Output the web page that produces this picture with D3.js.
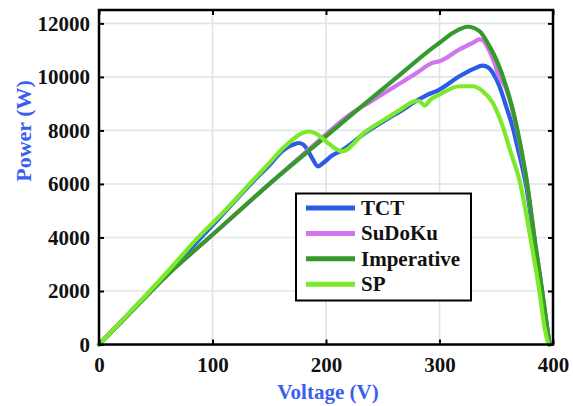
<!DOCTYPE html>
<html>
<head>
<meta charset="utf-8">
<script src="https://cdn.jsdelivr.net/npm/d3@7"></script>
<style>
  html, body { margin: 0; padding: 0; background: #fff; }
  svg { display: block; }
  .tick text { font-family: "Liberation Serif", "Times New Roman", serif; font-weight: bold; }
</style>
</head>
<body>
<svg id="chart" width="573" height="406"></svg>
<script>
// P-V characteristics of the array under four interconnection schemes
const seriesNames = ["TCT", "SuDoKu", "Imperative", "SP"];
const seriesColors = ["#2b5ce6", "#d274ee", "#35992c", "#7ce92a"];

const tctV = [0, 30, 60, 100, 136, 150, 162, 170, 176, 180, 184, 188, 193, 198, 205, 213, 235, 256, 265, 278, 288, 300, 317.6, 330, 338, 343, 347, 352.8, 358.7, 364.6, 368, 372, 376.3, 385, 390, 394, 397];
const tctP = [0, 1320, 2650, 4450, 6100, 6700, 7250, 7450, 7530, 7470, 7250, 6950, 6660, 6800, 7050, 7230, 7920, 8480, 8700, 9060, 9300, 9525, 10025, 10300, 10420, 10350, 10150, 9650, 8900, 8100, 7500, 6800, 5950, 3400, 2050, 850, 0];

const sudokuV = [0, 30, 60, 100, 152.5, 190, 220.8, 240, 260, 280, 294, 297, 300, 317.6, 329.3, 335.2, 338, 342.6, 348.4, 352, 358.7, 364.6, 370.4, 376.3, 385, 390, 394, 397];
const sudokuP = [0, 1300, 2590, 4100, 6087, 7480, 8587, 9095, 9625, 10150, 10525, 10560, 10587, 11025, 11275, 11400, 11370, 11087, 10525, 10050, 9550, 8700, 7580, 6200, 3550, 2100, 880, 0];

const imperativeV = [0, 30, 60, 100, 152.5, 190, 220.8, 260, 294, 300, 312, 325, 335.2, 344, 351.3, 358.7, 364.6, 370.4, 376.3, 385, 390, 394, 397];
const imperativeP = [0, 1300, 2590, 4100, 6087, 7420, 8525, 9900, 11087, 11275, 11650, 11875, 11712, 11150, 10525, 9650, 8775, 7650, 6275, 3600, 2150, 900, 0];

const spV = [0, 30, 60, 85, 110, 136, 150, 162, 170, 178, 185, 192, 200, 208, 214, 235, 256, 265, 278, 282, 287, 292, 300, 317.6, 329.3, 338.2, 347, 355.7, 363, 370.4, 382, 388, 392.5, 396];
const spP = [0, 1330, 2700, 3890, 4960, 6150, 6780, 7330, 7640, 7880, 7960, 7860, 7590, 7330, 7220, 7960, 8525, 8760, 9087, 9100, 8930, 9150, 9337, 9650, 9650, 9462, 9025, 8150, 7150, 6150, 3525, 2000, 650, 0];

const xTicks = [0, 100, 200, 300, 400];
const yTicks = [0, 2000, 4000, 6000, 8000, 10000, 12000];
const xTitle = "Voltage (V)";
const yTitle = "Power (W)";

const series = [
  { name: seriesNames[0], color: seriesColors[0], v: tctV, p: tctP },
  { name: seriesNames[1], color: seriesColors[1], v: sudokuV, p: sudokuP },
  { name: seriesNames[2], color: seriesColors[2], v: imperativeV, p: imperativeP },
  { name: seriesNames[3], color: seriesColors[3], v: spV, p: spP }
];

const svg = d3.select("#chart");
const plotL = 99, plotR = 553, plotT = 10, plotB = 344.5;
const x = d3.scaleLinear().domain([0, 400]).range([plotL, plotR]);
const y = d3.scaleLinear().domain([0, 12500]).range([plotB, plotT]);
const serif = "'Liberation Serif', 'Times New Roman', serif";
const fmt = d3.format("d");

// grid
const grid = svg.append("g");
grid.selectAll("line.gx").data(xTicks.slice(1, -1)).join("line")
  .attr("x1", d => x(d)).attr("x2", d => x(d)).attr("y1", plotT).attr("y2", plotB)
  .attr("stroke", "#dfe6e6").attr("stroke-width", 1.6);
grid.selectAll("line.gy").data(yTicks.slice(1)).join("line")
  .attr("x1", plotL).attr("x2", plotR).attr("y1", d => y(d)).attr("y2", d => y(d))
  .attr("stroke", "#dfe6e6").attr("stroke-width", 1.6);

// curves
const line = d3.line().x(d => x(d[0])).y(d => y(d[1])).curve(d3.curveMonotoneX);
svg.append("g").selectAll("path").data(series).join("path")
  .attr("d", s => line(s.v.map((v, i) => [v, s.p[i]])))
  .attr("fill", "none")
  .attr("stroke", s => s.color)
  .attr("stroke-width", 4.2)
  .attr("stroke-linejoin", "round")
  .attr("stroke-linecap", "round");

// axes with inward ticks
function styleAxis(g) {
  g.select(".domain").remove();
  g.selectAll(".tick line").attr("stroke", "#000").attr("stroke-width", 2);
  g.selectAll(".tick text").attr("font-size", 21).attr("fill", "#111");
}
svg.append("g").attr("transform", `translate(0,${plotB})`)
  .call(d3.axisBottom(x).tickValues(xTicks).tickFormat(fmt).tickSizeInner(-5).tickSizeOuter(0).tickPadding(13))
  .call(styleAxis);
svg.append("g").attr("transform", `translate(0,${plotT})`)
  .call(d3.axisTop(x).tickValues(xTicks).tickSizeInner(-5).tickSizeOuter(0).tickFormat(""))
  .call(styleAxis);
svg.append("g").attr("transform", `translate(${plotL},0)`)
  .call(d3.axisLeft(y).tickValues(yTicks).tickFormat(fmt).tickSizeInner(-5).tickSizeOuter(0).tickPadding(9))
  .call(styleAxis);
svg.append("g").attr("transform", `translate(${plotR},0)`)
  .call(d3.axisRight(y).tickValues(yTicks).tickSizeInner(-5).tickSizeOuter(0).tickFormat(""))
  .call(styleAxis);

// frame
svg.append("rect")
  .attr("x", plotL).attr("y", plotT).attr("width", plotR - plotL).attr("height", plotB - plotT)
  .attr("fill", "none").attr("stroke", "#000").attr("stroke-width", 2.5);

// axis titles
svg.append("text").attr("x", 328).attr("y", 399).attr("text-anchor", "middle")
  .attr("font-family", serif).attr("font-weight", "bold").attr("font-size", 21)
  .attr("fill", "#3a5ff0").text(xTitle);
svg.append("text").attr("transform", "translate(31,131) rotate(-90)").attr("text-anchor", "middle")
  .attr("font-family", serif).attr("font-weight", "bold").attr("font-size", 22)
  .attr("fill", "#3a5ff0").text(yTitle);

// legend
const lg = svg.append("g");
lg.append("rect").attr("x", 296).attr("y", 193.5).attr("width", 175).attr("height", 107)
  .attr("fill", "#fff").attr("stroke", "#000").attr("stroke-width", 2);
const items = lg.selectAll("g.item").data(series).join("g")
  .attr("transform", (d, i) => `translate(0,${208 + i * 25.4})`);
items.append("line").attr("x1", 306).attr("x2", 355).attr("y1", 0).attr("y2", 0)
  .attr("stroke", d => d.color).attr("stroke-width", 5);
items.append("text").attr("x", 361).attr("y", 7)
  .attr("font-family", serif).attr("font-weight", "bold").attr("font-size", 21)
  .attr("fill", "#111").text(d => d.name);
</script>
</body>
</html>
